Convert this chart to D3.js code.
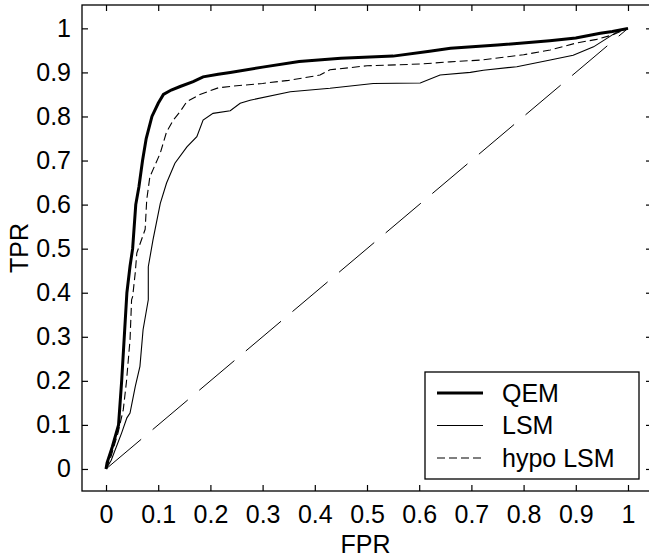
<!DOCTYPE html>
<html>
<head>
<meta charset="utf-8">
<script src="https://cdn.jsdelivr.net/npm/d3@7"></script>
<style>
  html, body { margin: 0; padding: 0; background: #fff; }
  svg { display: block; }
  text { font-family: "Liberation Sans", Arial, sans-serif; fill: #000; }
</style>
</head>
<body>
<svg id="chart" width="649" height="559"></svg>
<script>
// ---- data ----
const tickValues = [0, 0.1, 0.2, 0.3, 0.4, 0.5, 0.6, 0.7, 0.8, 0.9, 1];
const tickLabels = ["0", "0.1", "0.2", "0.3", "0.4", "0.5", "0.6", "0.7", "0.8", "0.9", "1"];
const seriesNames = ["QEM", "LSM", "hypo LSM"];

const qemFpr = [0, 0.002, 0.012, 0.024, 0.030, 0.035, 0.040, 0.046, 0.051, 0.057, 0.063, 0.070, 0.077, 0.088, 0.100, 0.110, 0.125, 0.142, 0.167, 0.186, 0.215, 0.238, 0.300, 0.370, 0.450, 0.550, 0.620, 0.660, 0.750, 0.850, 0.900, 0.947, 0.970, 1.0];
const qemTpr = [0, 0.014, 0.050, 0.100, 0.200, 0.300, 0.400, 0.460, 0.500, 0.600, 0.640, 0.700, 0.750, 0.800, 0.830, 0.850, 0.860, 0.868, 0.879, 0.890, 0.896, 0.900, 0.912, 0.925, 0.932, 0.937, 0.948, 0.955, 0.962, 0.972, 0.978, 0.989, 0.993, 1.0];

const lsmFpr = [0, 0.010, 0.030, 0.040, 0.046, 0.056, 0.065, 0.071, 0.081, 0.081, 0.090, 0.104, 0.116, 0.132, 0.155, 0.174, 0.186, 0.205, 0.238, 0.257, 0.276, 0.353, 0.429, 0.512, 0.602, 0.640, 0.698, 0.723, 0.787, 0.851, 0.895, 0.934, 0.979, 1.0];
const lsmTpr = [0, 0.020, 0.082, 0.116, 0.127, 0.187, 0.233, 0.316, 0.384, 0.459, 0.520, 0.603, 0.649, 0.694, 0.731, 0.754, 0.792, 0.807, 0.813, 0.830, 0.837, 0.856, 0.864, 0.875, 0.876, 0.894, 0.900, 0.905, 0.913, 0.928, 0.939, 0.958, 0.992, 1.0];

const hypoFpr = [0, 0.010, 0.023, 0.033, 0.039, 0.046, 0.049, 0.051, 0.056, 0.059, 0.075, 0.078, 0.084, 0.104, 0.116, 0.129, 0.142, 0.155, 0.180, 0.215, 0.244, 0.300, 0.350, 0.410, 0.429, 0.500, 0.602, 0.659, 0.717, 0.800, 0.851, 0.902, 0.940, 0.970, 1.0];
const hypoTpr = [0, 0.030, 0.082, 0.134, 0.196, 0.293, 0.384, 0.391, 0.445, 0.490, 0.544, 0.611, 0.663, 0.717, 0.765, 0.792, 0.811, 0.834, 0.850, 0.865, 0.869, 0.875, 0.882, 0.894, 0.906, 0.915, 0.919, 0.924, 0.928, 0.940, 0.951, 0.967, 0.975, 0.985, 1.0];

const chanceFpr = [0, 1];
const chanceTpr = [0, 1];

// ---- layout ----
const svg = d3.select("#chart");
const frame = { left: 82, top: 5, right: 652, bottom: 491 };
const x = d3.scaleLinear().domain([-0.046, 1.046]).range([frame.left, frame.right]);
const y = d3.scaleLinear().domain([-0.05, 1.053]).range([frame.bottom, frame.top]);
const FONT = 25;

const zip = (a, b) => a.map((v, i) => [v, b[i]]);
const line = d3.line().x(d => x(d[0])).y(d => y(d[1]));

const plot = svg.append("g");
plot.append("clipPath").attr("id", "clip").append("rect")
  .attr("x", frame.left).attr("y", frame.top)
  .attr("width", frame.right - frame.left).attr("height", frame.bottom - frame.top);

const curves = plot.append("g").attr("clip-path", "url(#clip)");
curves.append("path").datum(zip(chanceFpr, chanceTpr)).attr("d", line)
  .attr("fill", "none").attr("stroke", "#000").attr("stroke-width", 1)
  .attr("stroke-dasharray", "46,15");
curves.append("path").datum(zip(lsmFpr, lsmTpr)).attr("d", line)
  .attr("fill", "none").attr("stroke", "#000").attr("stroke-width", 1.1);
curves.append("path").datum(zip(hypoFpr, hypoTpr)).attr("d", line)
  .attr("fill", "none").attr("stroke", "#000").attr("stroke-width", 1.1)
  .attr("stroke-dasharray", "8,4");
curves.append("path").datum(zip(qemFpr, qemTpr)).attr("d", line)
  .attr("fill", "none").attr("stroke", "#000").attr("stroke-width", 3);

// axes (ticks pointing inward on all four sides)
const fmt = (d) => tickLabels[tickValues.indexOf(d)];
const axB = svg.append("g").attr("transform", `translate(0,${frame.bottom})`)
  .call(d3.axisBottom(x).tickValues(tickValues).tickFormat(fmt).tickSizeInner(-6).tickSizeOuter(0).tickPadding(14));
const axT = svg.append("g").attr("transform", `translate(0,${frame.top})`)
  .call(d3.axisTop(x).tickValues(tickValues).tickFormat("").tickSizeInner(-6).tickSizeOuter(0));
const axL = svg.append("g").attr("transform", `translate(${frame.left},0)`)
  .call(d3.axisLeft(y).tickValues(tickValues).tickFormat(fmt).tickSizeInner(-6).tickSizeOuter(0).tickPadding(11));
const axR = svg.append("g").attr("transform", `translate(${frame.right},0)`)
  .call(d3.axisRight(y).tickValues(tickValues).tickFormat("").tickSizeInner(-6).tickSizeOuter(0));
[axB, axT, axL, axR].forEach(g => {
  g.select(".domain").remove();
  g.selectAll(".tick line").attr("stroke", "#000").attr("stroke-width", 1.2);
  g.selectAll(".tick text").attr("font-size", FONT).attr("font-family", "Liberation Sans, Arial, sans-serif").attr("fill", "#000");
});

svg.append("rect")
  .attr("x", frame.left).attr("y", frame.top)
  .attr("width", frame.right - frame.left).attr("height", frame.bottom - frame.top)
  .attr("fill", "none").attr("stroke", "#000").attr("stroke-width", 1.3);

// axis titles
svg.append("text").attr("x", (frame.left + 649) / 2).attr("y", 553)
  .attr("text-anchor", "middle").attr("font-size", FONT).text("FPR");
svg.append("text").attr("transform", `translate(28,${(frame.top + frame.bottom) / 2}) rotate(-90)`)
  .attr("text-anchor", "middle").attr("font-size", FONT).text("TPR");

// legend
const legend = { x: 425, y: 372, w: 214, h: 107 };
const lg = svg.append("g");
lg.append("rect").attr("x", legend.x).attr("y", legend.y).attr("width", legend.w).attr("height", legend.h)
  .attr("fill", "#fff").attr("stroke", "#000").attr("stroke-width", 1.3);
const styles = [
  { w: 3, dash: null },
  { w: 1.1, dash: null },
  { w: 1.1, dash: "8,4" }
];
seriesNames.forEach((name, i) => {
  const cy = legend.y + 21 + i * 32.5;
  lg.append("line").attr("x1", legend.x + 12).attr("x2", legend.x + 58)
    .attr("y1", cy).attr("y2", cy).attr("stroke", "#000")
    .attr("stroke-width", styles[i].w).attr("stroke-dasharray", styles[i].dash);
  lg.append("text").attr("x", legend.x + 77).attr("y", cy).attr("dy", "0.35em")
    .attr("font-size", FONT).text(name);
});
</script>
</body>
</html>
